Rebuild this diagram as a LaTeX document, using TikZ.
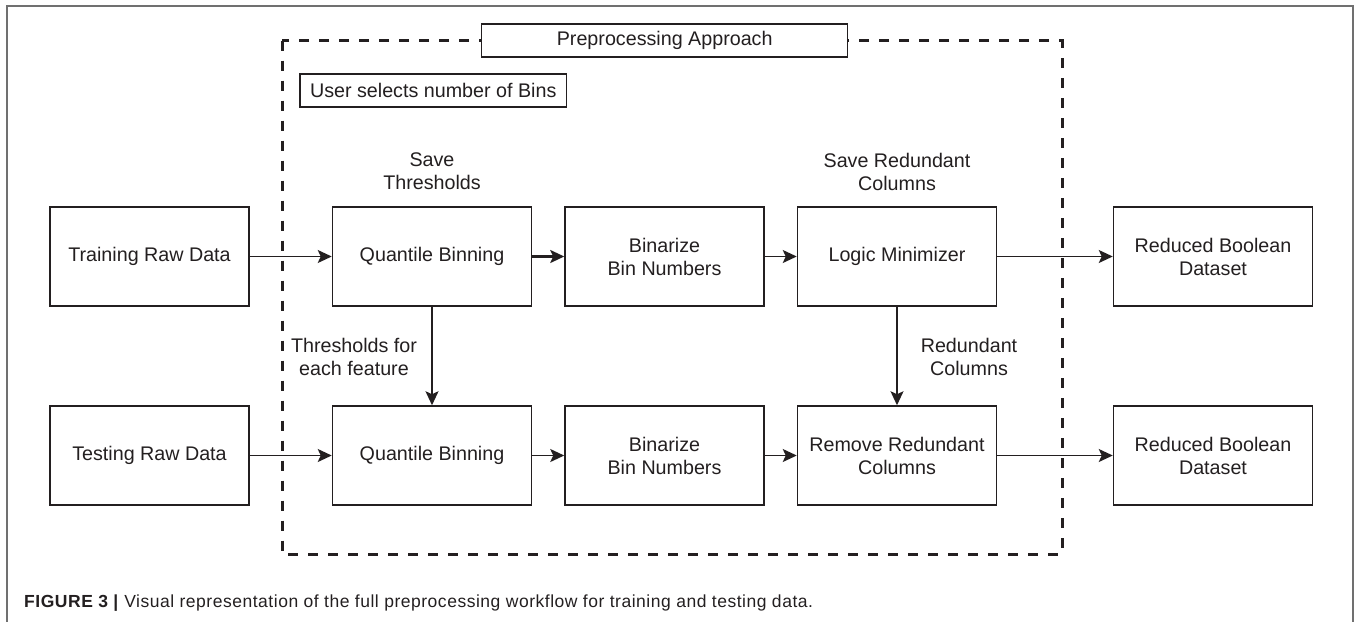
\documentclass[tikz,border=0pt]{standalone}
\usepackage{fontspec}
\setmainfont{Liberation Sans}
\newfontfamily\capfont[LetterSpace=3]{Liberation Sans}
\usetikzlibrary{arrows.meta}
\definecolor{ink}{HTML}{231F20}
\definecolor{framegray}{HTML}{707070}

\begin{document}
\begin{tikzpicture}[x=1pt,y=-1pt,
  boxfont/.style={font=\fontsize{19.7}{23}\selectfont, text=ink},
  stage/.style={boxfont, draw=ink, line width=1.5pt, minimum width=199pt,
    minimum height=99pt, align=center, inner sep=0pt},
  tag/.style={boxfont, draw=ink, line width=1.5pt, minimum height=33pt,
    inner xsep=10pt, inner ysep=0pt, fill=white},
  flow/.style={draw=ink, line width=1.6pt,
    -{Stealth[length=14pt,width=13pt,inset=3pt]}},
  note/.style={boxfont, align=center, inner sep=0pt},
  region/.style={draw=ink, line width=3pt, dash pattern=on 10pt off 10pt}
]
\useasboundingbox (0,0) rectangle (1356,621);

% page frame (open at the bottom)
\draw[framegray, line width=1.5pt] (7,630) -- (7,6) -- (1353,6) -- (1353,630);

% dashed region of the preprocessing approach
\draw[region] (282,40.7) rectangle (1062,554.3);
\node[tag, minimum width=366pt] (approach) at (664.7,40.7) {Preprocessing Approach};
\node[tag, anchor=west] (bins) at (299.3,90.5) {User selects number of Bins};

% training row
\node[stage] (train) at (149.5,256.5) {Training Raw Data};
\node[stage] (qtrain) at (432,256.5) {Quantile Binning};
\node[stage] (btrain) at (664.5,256.5) {Binarize\\Bin Numbers};
\node[stage] (logic) at (897,256.5) {Logic Minimizer};
\node[stage] (rtrain) at (1213,256.5) {Reduced Boolean\\Dataset};

% testing row
\node[stage] (test) at (149.5,455.5) {Testing Raw Data};
\node[stage] (qtest) at (432,455.5) {Quantile Binning};
\node[stage] (btest) at (664.5,455.5) {Binarize\\Bin Numbers};
\node[stage] (remove) at (897,455.5) {Remove Redundant\\Columns};
\node[stage] (rtest) at (1213,455.5) {Reduced Boolean\\Dataset};

% notes
\node[note] (savethr) at (432,171.5) {Save\\Thresholds};
\node[note] (savered) at (897,171.5) {Save Redundant\\Columns};
\node[note] (thrfeat) at (354,356.5) {Thresholds for\\each feature};
\node[note] (redcol) at (969,357) {Redundant\\Columns};

% connectors
\draw[flow] (train) -- (qtrain);
\draw[flow, line width=2.2pt] (qtrain) -- (btrain);
\draw[flow] (btrain) -- (logic);
\draw[flow] (logic) -- (rtrain);
\draw[flow] (test) -- (qtest);
\draw[flow] (qtest) -- (btest);
\draw[flow] (btest) -- (remove);
\draw[flow] (remove) -- (rtest);
\draw[flow] (qtrain) -- (qtest);
\draw[flow] (logic) -- (remove);

% caption
\node[anchor=base west, inner sep=0pt, text=ink,
  font=\capfont\fontsize{17.5}{21}\selectfont] (caption) at (24,607)
  {\textbf{FIGURE 3 |} Visual representation of the full preprocessing workflow for training and testing data.};
\end{tikzpicture}
\end{document}
